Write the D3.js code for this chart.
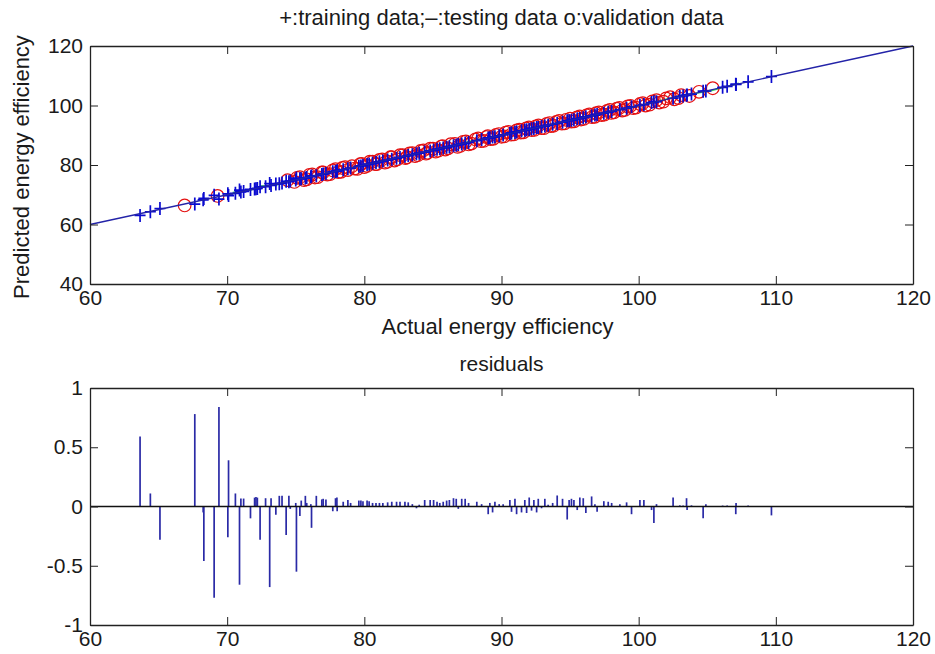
<!DOCTYPE html>
<html lang="en">
<head>
<meta charset="UTF-8"/>
<title>Energy efficiency fit and residuals</title>
<script src="https://d3js.org/d3.v7.js"></script>
<style>
  body { margin: 0; background: #fff; }
  svg text { font-family: "Liberation Sans", Arial, sans-serif; fill: #1a1a1a; }
  .tick line, .domain { stroke: #222; }
</style>
</head>
<body>
<div id="chart"></div>
<script>
// ---- data ----
const xTicks = [60, 70, 80, 90, 100, 110, 120];
const yTicksTop = [40, 60, 80, 100, 120];
const yTicksBottom = [-1, -0.5, 0, 0.5, 1];

// residuals: [actual energy efficiency, residual]
const residuals = [
  [63.65, 0.59], [64.4, 0.11], [65.1, -0.28], [67.64, 0.78], [68.25, -0.05], [68.3, -0.46],
  [69.05, -0.77], [69.4, 0.84], [70.05, -0.26], [70.1, 0.39], [70.6, 0.11], [70.9, -0.66],
  [71.0, 0.067], [71.2, 0.067], [71.7, -0.1], [72.0, 0.075], [72.1, 0.08], [72.2, 0.075],
  [72.4, -0.28], [72.8, 0.07], [73.1, -0.68], [73.2, 0.07], [73.55, -0.07], [73.8, 0.09],
  [74.0, 0.09], [74.3, -0.24], [74.5, 0.09], [74.6, -0.02], [75.0, 0.03], [75.05, -0.55],
  [75.3, -0.08], [75.4, 0.05], [75.7, 0.09], [75.8, 0.03], [76.1, 0.02], [76.15, -0.18],
  [76.5, 0.09], [76.9, 0.06], [77.0, 0.065], [77.2, 0.06], [77.7, -0.04], [77.9, 0.07],
  [78.0, 0.076], [78.02, -0.04], [78.46, 0.04], [78.8, 0.055], [79.0, 0.03], [79.6, 0.05],
  [79.75, 0.05], [79.9, 0.045], [80.2, 0.05], [80.35, 0.045], [80.6, 0.03], [80.85, 0.03],
  [81.1, 0.03], [81.35, 0.03], [81.7, 0.035], [82.0, 0.04], [82.35, 0.04], [82.6, 0.04],
  [82.96, 0.04], [83.2, 0.035], [83.5, 0.02], [83.8, -0.015], [84.0, 0.015], [84.4, 0.055],
  [84.8, 0.055], [85.05, 0.055], [85.3, 0.04], [85.5, 0.03], [85.75, 0.04], [86.0, 0.05],
  [86.2, 0.055], [86.5, 0.07], [86.7, 0.065], [86.85, -0.02], [87.1, 0.065], [87.35, 0.065],
  [87.6, 0.03], [88.2, 0.04], [88.55, 0.02], [89.03, -0.065], [89.15, 0.03], [89.35, -0.05],
  [89.52, 0.04], [89.83, 0.02], [90.12, 0.02], [90.61, 0.055], [90.73, -0.045], [90.98, 0.065],
  [91.1, -0.065], [91.46, -0.05], [91.7, 0.055], [91.83, -0.055], [92.02, 0.076], [92.19, -0.035],
  [92.36, 0.055], [92.56, -0.05], [92.68, 0.065], [92.92, -0.015], [93.16, 0.065], [93.4, 0.015],
  [93.73, 0.03], [94.06, 0.093], [94.45, 0.065], [94.79, -0.11], [94.93, 0.055], [95.1, 0.065],
  [95.28, 0.055], [95.52, -0.03], [95.71, 0.076], [95.96, 0.07], [96.15, -0.055], [96.57, 0.085],
  [96.81, 0.02], [96.97, -0.045], [97.46, 0.045], [97.78, 0.04], [98.03, 0.03], [98.63, 0.02],
  [99.12, 0.035], [99.48, -0.065], [100.09, 0.055], [100.38, 0.055], [100.94, -0.03], [101.11, -0.14],
  [101.3, 0.02], [102.51, 0.076], [103.0, 0.01], [103.24, 0.008], [103.49, 0.07], [103.53, -0.03],
  [103.85, 0.01], [104.7, -0.1], [104.9, 0.02], [106.12, 0.008], [106.45, 0.008], [107.08, -0.065],
  [107.1, 0.03], [107.98, 0.008], [109.68, -0.075]
];

// validation data (o): [actual, predicted]
const validation = [
  [66.9, 66.4], [69.3, 69.6], [74.4, 74.9], [74.9, 74.3], [75.3, 75.9], [75.8, 75.2], [76.2, 76.8],
  [76.6, 75.9], [77.0, 77.5], [77.3, 76.8], [77.7, 78.2], [78.1, 77.6], [78.4, 79.0], [78.8, 78.3],
  [79.1, 79.6], [79.5, 78.7], [79.8, 80.4], [80.2, 79.7], [80.6, 81.1], [80.9, 80.3], [81.3, 81.9],
  [81.7, 81.1], [82.0, 82.6], [82.4, 81.9], [82.8, 83.3], [83.1, 82.6], [83.5, 84.0], [83.9, 83.3],
  [84.3, 84.9], [84.6, 84.1], [85.0, 85.5], [85.4, 84.8], [85.7, 86.3], [86.1, 85.6], [86.6, 87.1],
  [87.0, 86.4], [87.4, 87.9], [87.8, 87.2], [88.1, 88.6], [88.5, 88.0], [88.9, 89.4], [89.2, 88.7],
  [89.6, 90.1], [90.0, 89.5], [90.3, 90.9], [90.7, 90.2], [91.1, 91.6], [91.4, 90.9], [91.8, 92.3],
  [92.2, 91.7], [92.5, 93.0], [92.9, 92.4], [93.3, 93.8], [93.6, 93.1], [94.0, 94.5], [94.4, 93.9],
  [94.7, 95.2], [95.1, 94.6], [95.5, 96.0], [95.8, 95.3], [96.2, 96.7], [96.6, 96.1], [96.9, 97.4],
  [97.3, 96.8], [97.7, 98.2], [98.0, 97.5], [98.4, 98.9], [98.8, 98.3], [99.2, 99.7], [99.6, 99.1],
  [100.1, 100.5], [100.5, 100.0], [101.0, 101.4], [101.5, 101.0], [102.0, 102.4], [102.6, 102.1],
  [103.1, 103.5], [103.7, 103.2], [104.4, 104.6], [105.4, 105.8],
  [75.1, 75.7], [75.6, 74.9], [76.0, 76.7], [76.4, 75.8], [76.9, 77.5], [77.5, 76.9], [77.9, 78.6],
  [78.3, 77.7], [78.6, 79.3], [79.3, 78.8], [79.7, 80.3], [80.0, 79.3], [80.4, 81.1], [80.8, 80.3],
  [81.1, 81.7], [81.5, 80.8], [81.9, 82.6], [82.2, 81.5], [82.6, 83.3], [83.0, 82.3], [83.3, 83.9],
  [83.7, 83.0], [84.1, 84.7], [84.5, 83.8], [84.8, 85.5], [85.2, 84.5], [85.6, 86.2], [85.9, 85.2],
  [86.3, 87.0], [86.8, 86.1], [87.2, 87.8], [87.6, 86.9], [88.3, 88.9], [88.7, 88.1], [89.0, 89.7],
  [89.4, 88.8], [89.8, 90.4], [90.2, 89.6], [90.5, 91.1], [90.9, 90.3], [91.3, 91.9], [91.6, 91.0],
  [92.0, 92.6], [92.4, 91.8], [92.7, 93.3], [93.1, 92.4], [93.5, 94.1], [93.8, 93.2], [94.2, 94.8],
  [94.6, 94.0], [95.0, 95.6], [95.3, 94.7], [95.7, 96.3], [96.0, 95.5], [96.4, 97.0], [96.8, 96.2],
  [97.1, 97.7], [97.5, 96.9], [97.9, 98.5], [98.2, 97.7], [98.6, 99.2], [99.0, 98.5], [99.4, 99.9],
  [99.8, 99.3], [100.3, 100.8], [100.8, 100.3], [101.3, 101.8], [101.8, 101.3], [102.3, 102.8],
  [102.9, 102.5]
];

// testing data (-): [actual, predicted]
const testing = [
  [70.4, 70.7], [71.6, 71.4], [72.5, 72.9], [73.6, 73.3], [74.8, 75.1], [77.5, 77.2], [80.3, 80.6],
  [84.0, 83.7], [88.0, 88.3], [92.0, 91.8], [96.0, 96.3], [100.0, 99.8], [103.0, 103.3],
  [105.2, 104.9], [107.3, 107.5]
];

// fitted line y = x
const fitLine = [[60, 60], [120, 120]];

// ---- layout ----
const width = 935, height = 654;
const left = 90, right = 913;
const top1 = 46, bottom1 = 284;
const top2 = 388, bottom2 = 625;
const tickLen = 8;

const svg = d3.select("#chart")
  .append("svg")
    .attr("width", width)
    .attr("height", height);

const x = d3.scaleLinear().domain([60, 120]).range([left, right]);
const y1 = d3.scaleLinear().domain([40, 120]).range([bottom1, top1]);
const y2 = d3.scaleLinear().domain([-1, 1]).range([bottom2, top2]);

// box with ticks pointing inward on all four sides
function frame(yScale, yTicks, yFmt) {
  const [yb, yt] = yScale.range();
  const g = svg.append("g");
  g.append("g")
    .attr("transform", `translate(0,${yb})`)
    .call(d3.axisBottom(x).tickValues(xTicks).tickSize(-tickLen).tickSizeOuter(0).tickPadding(6))
    .call(a => a.selectAll("text").attr("font-size", 21));
  g.append("g")
    .attr("transform", `translate(0,${yt})`)
    .call(d3.axisTop(x).tickValues(xTicks).tickSize(-tickLen).tickSizeOuter(0).tickFormat(""));
  g.append("g")
    .attr("transform", `translate(${left},0)`)
    .call(d3.axisLeft(yScale).tickValues(yTicks).tickSize(-tickLen).tickSizeOuter(0).tickPadding(7).tickFormat(yFmt))
    .call(a => a.selectAll("text").attr("font-size", 21));
  g.append("g")
    .attr("transform", `translate(${right},0)`)
    .call(d3.axisRight(yScale).tickValues(yTicks).tickSize(-tickLen).tickSizeOuter(0).tickFormat(""));
  g.selectAll(".domain").attr("stroke-width", 1.3);
  return g;
}

// ---- top panel ----
const plot1 = svg.append("g");

// testing data as a line
plot1.append("path")
  .datum(testing)
  .attr("fill", "none")
  .attr("stroke", "#3ccf5a")
  .attr("stroke-width", 1.6)
  .attr("d", d3.line().x(d => x(d[0])).y(d => y1(d[1])));

// validation data
plot1.append("g")
  .selectAll("circle")
  .data(validation)
  .join("circle")
    .attr("cx", d => x(d[0]))
    .attr("cy", d => y1(d[1]))
    .attr("r", 6.3)
    .attr("fill", "none")
    .attr("stroke", "#e41010")
    .attr("stroke-width", 1.2);

// training data: predicted = actual - residual
plot1.append("g")
  .selectAll("path")
  .data(residuals)
  .join("path")
    .attr("transform", d => `translate(${x(d[0])},${y1(d[0] - d[1])})`)
    .attr("d", "M-5.5,0H5.5M0,-6.5V6.5")
    .attr("stroke", "#0a0ad0")
    .attr("stroke-width", 1.7)
    .attr("fill", "none");

plot1.append("path")
  .datum(fitLine)
  .attr("fill", "none")
  .attr("stroke", "#2323a8")
  .attr("stroke-width", 1.3)
  .attr("d", d3.line().x(d => x(d[0])).y(d => y1(d[1])));

frame(y1, yTicksTop, d3.format("d"));

svg.append("text")
  .attr("x", (left + right) / 2)
  .attr("y", 25)
  .attr("text-anchor", "middle")
  .attr("font-size", 22)
  .text("+:training data;\u2013:testing data o:validation data");

svg.append("text")
  .attr("x", (left + right) / 2 - 4)
  .attr("y", 334)
  .attr("text-anchor", "middle")
  .attr("font-size", 22)
  .text("Actual energy efficiency");

svg.append("text")
  .attr("transform", `translate(29,${(top1 + bottom1) / 2 + 2}) rotate(-90)`)
  .attr("text-anchor", "middle")
  .attr("font-size", 22)
  .text("Predicted energy efficiency");

// ---- bottom panel ----
svg.append("text")
  .attr("x", (left + right) / 2)
  .attr("y", 371)
  .attr("text-anchor", "middle")
  .attr("font-size", 21)
  .text("residuals");

svg.append("g")
  .selectAll("line")
  .data(residuals)
  .join("line")
    .attr("x1", d => x(d[0]))
    .attr("x2", d => x(d[0]))
    .attr("y1", y2(0))
    .attr("y2", d => y2(d[1]))
    .attr("stroke", "#2a2aa6")
    .attr("stroke-width", 1.7);

// baseline at zero
svg.append("line")
  .attr("x1", left).attr("x2", right)
  .attr("y1", y2(0)).attr("y2", y2(0))
  .attr("stroke", "#111")
  .attr("stroke-width", 1.3);

frame(y2, yTicksBottom, d => d === 0 ? "0" : String(d));
</script>
</body>
</html>
